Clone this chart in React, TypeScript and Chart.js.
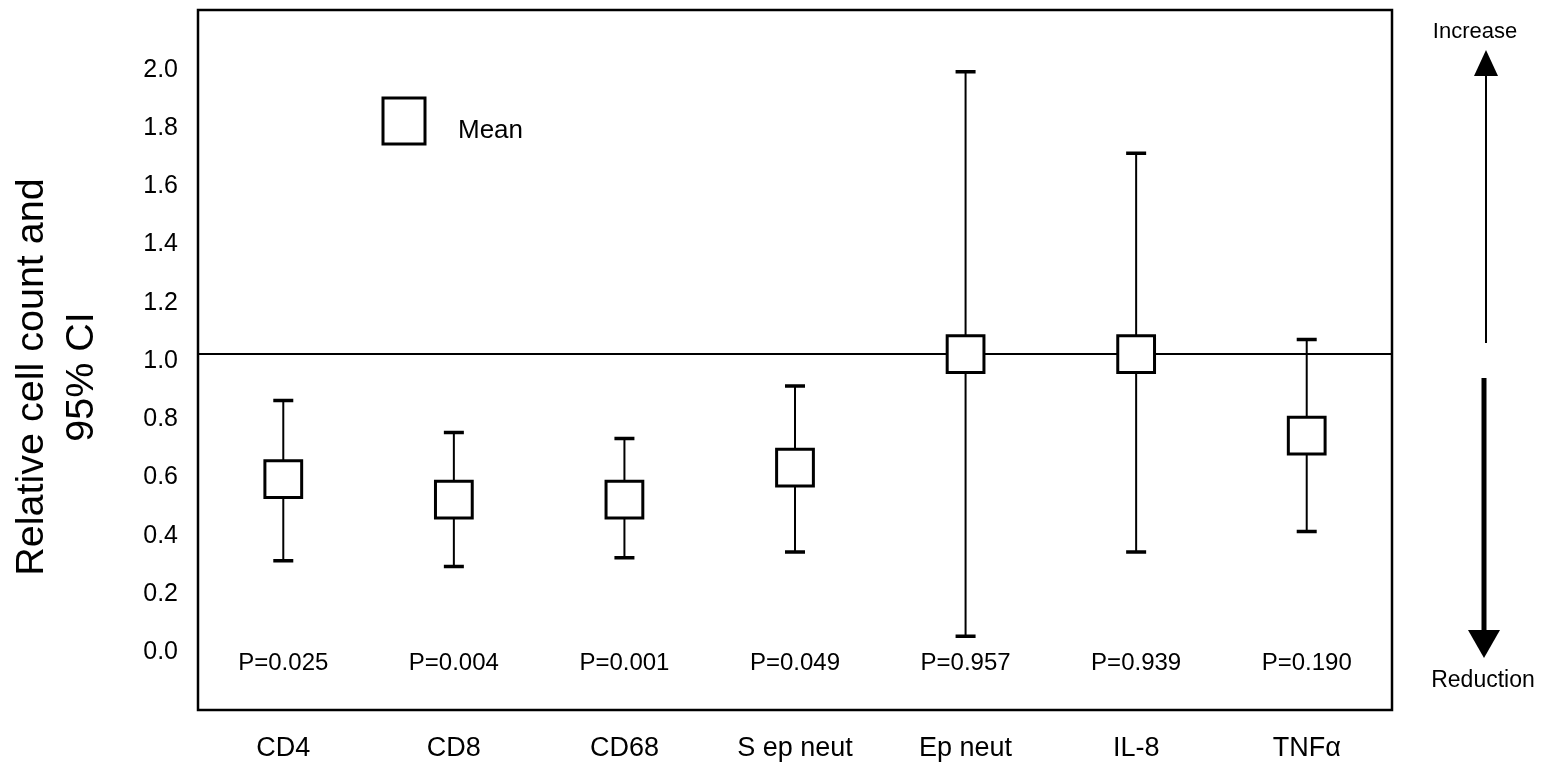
import React, { useEffect, useRef } from 'react';
import { Chart, registerables } from 'chart.js';

Chart.register(...registerables);

const CATEGORIES = ['CD4', 'CD8', 'CD68', 'S ep neut', 'Ep neut', 'IL-8', 'TNFα'];
const MEANS = [0.57, 0.5, 0.5, 0.61, 1.0, 1.0, 0.72];
const CI_LOWER = [0.29, 0.27, 0.3, 0.32, 0.03, 0.32, 0.39];
const CI_UPPER = [0.84, 0.73, 0.71, 0.89, 1.97, 1.69, 1.05];
const P_VALUES = ['P=0.025', 'P=0.004', 'P=0.001', 'P=0.049', 'P=0.957', 'P=0.939', 'P=0.190'];
const P_LABEL_VALUE = -0.062;
const Y_TICKS = [0, 0.2, 0.4, 0.6, 0.8, 1.0, 1.2, 1.4, 1.6, 1.8, 2.0];
const Y_MIN = -0.223;
const Y_MAX = 2.182;
const REFERENCE_VALUE = 1.0;
const Y_TITLE = ['Relative cell count and', '95% CI'];
const LEGEND_LABEL = 'Mean';
const INCREASE_LABEL = 'Increase';
const REDUCTION_LABEL = 'Reduction';

const FONT = '"Liberation Sans", Arial, Helvetica, sans-serif';

const annotationPlugin = {
  id: 'annotationPlugin',
  beforeDatasetsDraw(chart: any) {
    const { ctx, chartArea: a, scales } = chart;
    const x = scales.x;
    const y = scales.y;
    ctx.save();
    ctx.strokeStyle = '#000';
    // reference line
    const yr = y.getPixelForValue(REFERENCE_VALUE);
    ctx.lineWidth = 2;
    ctx.beginPath();
    ctx.moveTo(a.left, yr);
    ctx.lineTo(a.right, yr);
    ctx.stroke();
    // error bars
    CATEGORIES.forEach((_, i) => {
      const px = x.getPixelForValue(i);
      const yl = y.getPixelForValue(CI_LOWER[i]);
      const yu = y.getPixelForValue(CI_UPPER[i]);
      ctx.lineWidth = 2;
      ctx.beginPath();
      ctx.moveTo(px, yl);
      ctx.lineTo(px, yu);
      ctx.stroke();
      ctx.lineWidth = 3.5;
      ctx.beginPath();
      ctx.moveTo(px - 10, yl);
      ctx.lineTo(px + 10, yl);
      ctx.moveTo(px - 10, yu);
      ctx.lineTo(px + 10, yu);
      ctx.stroke();
    });
    ctx.restore();
  },
  afterDraw(chart: any) {
    const { ctx, chartArea: a, scales } = chart;
    const x = scales.x;
    const y = scales.y;
    ctx.save();
    ctx.strokeStyle = '#000';
    ctx.fillStyle = '#000';
    // frame
    ctx.lineWidth = 2.5;
    ctx.strokeRect(a.left, a.top, a.right - a.left, a.bottom - a.top);
    // p values
    ctx.font = `24px ${FONT}`;
    ctx.textAlign = 'center';
    ctx.textBaseline = 'middle';
    const py = y.getPixelForValue(P_LABEL_VALUE);
    P_VALUES.forEach((p, i) => {
      ctx.fillText(p, x.getPixelForValue(i), py);
    });
    // legend
    ctx.lineWidth = 3;
    ctx.strokeRect(a.left + 185, a.top + 88, 42, 46);
    ctx.font = `26px ${FONT}`;
    ctx.textAlign = 'left';
    ctx.fillText(LEGEND_LABEL, a.left + 260, a.top + 121);
    // arrows
    const ax = a.right + 94;
    ctx.lineWidth = 2;
    ctx.beginPath();
    ctx.moveTo(ax, 343);
    ctx.lineTo(ax, 72);
    ctx.stroke();
    ctx.beginPath();
    ctx.moveTo(ax, 50);
    ctx.lineTo(ax - 12, 76);
    ctx.lineTo(ax + 12, 76);
    ctx.closePath();
    ctx.fill();
    const bx = ax - 2;
    ctx.lineWidth = 5;
    ctx.beginPath();
    ctx.moveTo(bx, 378);
    ctx.lineTo(bx, 632);
    ctx.stroke();
    ctx.beginPath();
    ctx.moveTo(bx, 658);
    ctx.lineTo(bx - 16, 630);
    ctx.lineTo(bx + 16, 630);
    ctx.closePath();
    ctx.fill();
    ctx.textAlign = 'center';
    ctx.font = `22px ${FONT}`;
    ctx.fillText(INCREASE_LABEL, ax - 11, 32);
    ctx.font = `23px ${FONT}`;
    ctx.fillText(REDUCTION_LABEL, bx - 1, 681);
    // y title
    ctx.font = `39.5px ${FONT}`;
    ctx.translate(0, 377);
    ctx.rotate(-Math.PI / 2);
    ctx.textAlign = 'center';
    ctx.textBaseline = 'middle';
    ctx.fillText(Y_TITLE[0], 0, 32);
    ctx.fillText(Y_TITLE[1], 0, 82);
    ctx.restore();
  },
};

export default function App() {
  const ref = useRef<HTMLCanvasElement | null>(null);
  useEffect(() => {
    document.body.style.margin = '0';
    const canvas = ref.current;
    if (!canvas) return;
    const chart = new Chart(canvas, {
      type: 'line',
      data: {
        labels: CATEGORIES,
        datasets: [
          {
            label: LEGEND_LABEL,
            data: MEANS,
            showLine: false,
            pointStyle: 'rect',
            pointRadius: 26,
            pointHoverRadius: 26,
            pointBackgroundColor: '#fff',
            pointBorderColor: '#000',
            pointBorderWidth: 3,
          },
        ],
      },
      options: {
        responsive: false,
        animation: false,
        events: [],
        layout: { autoPadding: false, padding: { left: 0, right: 153, top: 10, bottom: 0 } },
        plugins: { legend: { display: false }, tooltip: { enabled: false } },
        scales: {
          x: {
            type: 'category',
            offset: true,
            grid: { display: false, drawTicks: false },
            border: { display: false },
            ticks: {
              color: '#000',
              font: { family: FONT, size: 27 },
              padding: 22,
              maxRotation: 0,
              autoSkip: false,
            },
            afterFit(s: any) {
              s.height = 56;
              s.paddingLeft = 0;
              s.paddingRight = 0;
            },
          },
          y: {
            type: 'linear',
            min: Y_MIN,
            max: Y_MAX,
            grid: { display: false, drawTicks: false },
            border: { display: false },
            ticks: {
              color: '#000',
              font: { family: FONT, size: 25 },
              padding: 20,
              labelOffset: 7,
              callback: (v: any) => Number(v).toFixed(1),
            },
            afterBuildTicks(s: any) {
              s.ticks = Y_TICKS.map((v) => ({ value: v }));
            },
            afterFit(s: any) {
              s.width = 198;
              s.paddingTop = 0;
              s.paddingBottom = 0;
            },
          },
        },
      },
      plugins: [annotationPlugin],
    } as any);
    return () => chart.destroy();
  }, []);
  return (
    <div style={{ width: 1545, height: 766 }}>
      <canvas ref={ref} width={1545} height={766} style={{ display: 'block' }} />
    </div>
  );
}
